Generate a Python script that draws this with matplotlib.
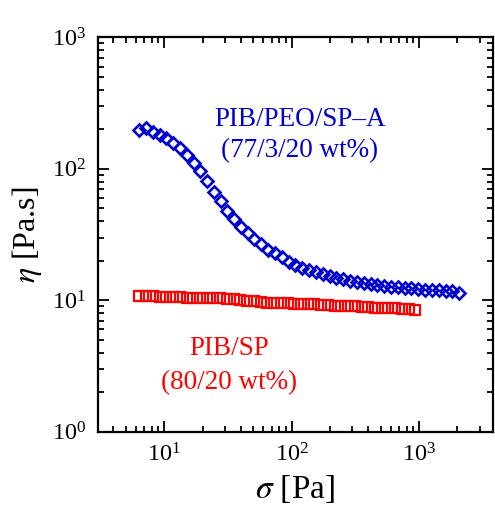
import matplotlib
matplotlib.use('Agg')
import matplotlib.pyplot as plt
from matplotlib.ticker import LogLocator, NullFormatter

plt.rcParams['font.family'] = ['Liberation Serif', 'DejaVu Serif']
plt.rcParams['mathtext.fontset'] = 'stix'

# PIB/PEO/SP-A (77/3/20 wt%)
sigma_a = [6.40, 7.23, 8.17, 9.23, 10.4, 11.8, 13.3, 15.1, 17.0, 19.2, 21.7, 24.5,
           27.7, 31.3, 35.4, 40.0, 45.2, 51.1, 57.7, 65.2, 73.7, 83.8, 94.8, 107,
           121, 137, 155, 175, 199, 224, 254, 287, 325, 367, 416, 470, 532, 601,
           681, 769, 871, 984, 1114, 1259, 1426, 1611, 1824, 2065]
eta_a = [199, 206, 192, 181, 171, 157, 144, 127, 111, 96, 80.7, 66.6,
         56.5, 48.0, 41.3, 36.1, 32.7, 29.1, 26.7, 24.3, 22.8, 21.2, 19.7, 18.6,
         17.7, 17.0, 16.3, 15.8, 15.2, 14.8, 14.5, 14.1, 13.8, 13.6, 13.3, 13.1, 12.9, 12.7,
         12.6, 12.4, 12.3, 12.1, 12.06, 12.0, 11.9, 11.8, 11.7, 11.4]

# PIB/SP (80/20 wt%)
sigma_b = [6.40, 7.22, 8.16, 9.21, 10.4, 11.75, 13.27, 14.99, 16.92, 19.11, 21.58,
           24.37, 27.52, 31.08, 35.10, 39.64, 44.76, 50.55, 57.08, 64.46, 72.79,
           82.20, 92.83, 104.8, 118.4, 133.7, 151.0, 170.5, 192.5, 217.4, 245.5,
           277.3, 313.1, 353.6, 399.3, 450.9, 509.2, 575.0, 649.3, 733.2, 828.0, 935]
eta_b = [10.7, 10.7, 10.7, 10.6, 10.6, 10.6, 10.6, 10.5, 10.5, 10.5, 10.5,
         10.4, 10.4, 10.3, 10.2, 10.0, 9.9, 9.8, 9.7, 9.6, 9.6,
         9.5, 9.5, 9.4, 9.4, 9.3, 9.3, 9.2, 9.2, 9.1, 9.1,
         9.0, 9.0, 8.9, 8.9, 8.8, 8.8, 8.7, 8.7, 8.6, 8.6, 8.4]

fig = plt.figure(figsize=(4.95, 5.05), dpi=100)
ax = fig.add_axes([0.197, 0.145, 0.799, 0.781])

ax.plot(sigma_a, eta_a, linestyle='none', marker='D', markersize=6.3,
        markerfacecolor='none', markeredgecolor='#0000CC', markeredgewidth=1.9)
ax.plot(sigma_b, eta_b, linestyle='none', marker='s', markersize=7.4,
        markerfacecolor='none', markeredgecolor='#FF0000', markeredgewidth=1.6)

ax.set_xscale('log')
ax.set_yscale('log')
ax.set_xlim(3, 3800)
ax.set_ylim(1, 1000)

ax.xaxis.set_major_locator(LogLocator(base=10, numticks=10))
ax.xaxis.set_minor_locator(LogLocator(base=10, subs=range(2, 10), numticks=20))
ax.xaxis.set_minor_formatter(NullFormatter())
ax.yaxis.set_minor_locator(LogLocator(base=10, subs=range(2, 10), numticks=20))
ax.yaxis.set_minor_formatter(NullFormatter())

ax.tick_params(which='both', direction='in', top=True, right=True, width=1.3)
ax.tick_params(which='major', length=8, labelsize=17.5, pad=8)
ax.tick_params(which='minor', length=4.5)
for s in ax.spines.values():
    s.set_linewidth(1.6)

ax.set_xlabel(r'$\sigma$ [Pa]', fontsize=24, labelpad=5)
ax.set_ylabel(r'$\eta$ [Pa.s]', fontsize=23, labelpad=6)

ax.text(0.512, 0.793, 'PIB/PEO/SP–A', color='#0000CC', fontsize=19.5,
        ha='center', va='center', transform=ax.transAxes)
ax.text(0.512, 0.712, '(77/3/20 wt%)', color='#0000CC', fontsize=19.5,
        ha='center', va='center', transform=ax.transAxes)
ax.text(0.333, 0.212, 'PIB/SP', color='#FF0000', fontsize=19.5,
        ha='center', va='center', transform=ax.transAxes)
ax.text(0.333, 0.124, '(80/20 wt%)', color='#FF0000', fontsize=19.5,
        ha='center', va='center', transform=ax.transAxes)

fig.savefig('out.png', dpi=100)
